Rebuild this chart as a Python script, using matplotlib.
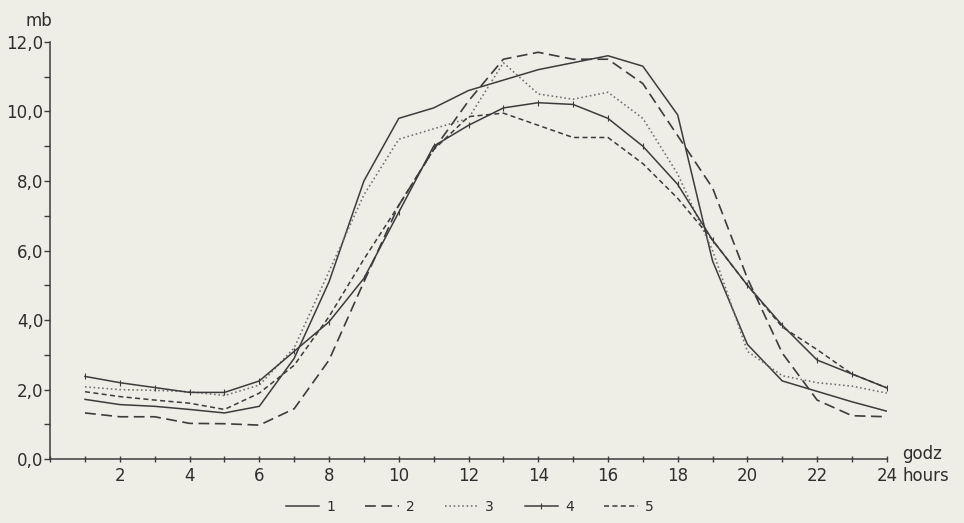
import matplotlib
matplotlib.use("Agg")
import matplotlib.pyplot as plt
from matplotlib.ticker import MultipleLocator, FuncFormatter

hours = list(range(1, 25))
series_names = ["1", "2", "3", "4", "5"]
s1 = [1.72, 1.57, 1.52, 1.43, 1.33, 1.52, 2.9, 5.1, 8.0, 9.8, 10.1, 10.6,
      10.9, 11.2, 11.4, 11.6, 11.3, 9.9, 5.7, 3.3, 2.25, 1.95, 1.65, 1.38]
s2 = [1.33, 1.22, 1.22, 1.03, 1.02, 0.98, 1.45, 2.85, 5.1, 7.3, 8.9, 10.3,
      11.5, 11.7, 11.5, 11.5, 10.8, 9.3, 7.8, 5.2, 3.05, 1.7, 1.25, 1.22]
s3 = [2.08, 2.0, 1.98, 1.94, 1.83, 2.13, 3.2, 5.4, 7.6, 9.2, 9.5, 9.8,
      11.4, 10.5, 10.35, 10.55, 9.8, 8.2, 6.0, 3.1, 2.4, 2.2, 2.1, 1.9]
s4 = [2.38, 2.2, 2.06, 1.92, 1.92, 2.25, 3.1, 3.95, 5.2, 7.1, 9.0, 9.6,
      10.1, 10.25, 10.2, 9.8, 9.0, 7.9, 6.3, 5.0, 3.85, 2.85, 2.45, 2.05]
s5 = [1.94, 1.8, 1.7, 1.61, 1.43, 1.9, 2.7, 4.1, 5.75, 7.3, 8.9, 9.85,
      9.95, 9.6, 9.25, 9.25, 8.5, 7.5, 6.3, 5.0, 3.8, 3.15, 2.45, 2.05]

bg = "#eeede6"
ink = "#3c3c3c"

fig = plt.figure(figsize=(9.64, 5.23), dpi=100, facecolor=bg)
ax = fig.add_axes([0.052, 0.122, 0.868, 0.798], facecolor=bg)

styles = [
    dict(color=ink, lw=1.1, linestyle="-"),
    dict(color=ink, lw=1.2, linestyle=(0, (6.5, 3.3))),
    dict(color="#6e6e6e", lw=1.15, linestyle=(0, (1.0, 1.7))),
    dict(color=ink, lw=1.1, linestyle="-", marker="|", markersize=5, markeredgewidth=0.8),
    dict(color=ink, lw=1.1, linestyle=(0, (3.3, 2.2))),
]
data = [s1, s2, s3, s4, s5]
handles = []
for name, ys, st in zip(series_names, data, styles):
    ln, = ax.plot(hours, ys, label=name, **st)
    handles.append(ln)

ax.set_xlim(0, 24)
ax.set_ylim(0, 12)
for s in ["top", "right"]:
    ax.spines[s].set_visible(False)
for s in ["left", "bottom"]:
    ax.spines[s].set_color(ink)
    ax.spines[s].set_linewidth(1.1)

ax.yaxis.set_major_locator(MultipleLocator(2))
ax.yaxis.set_minor_locator(MultipleLocator(1))
ax.yaxis.set_major_formatter(FuncFormatter(lambda v, p: f"{v:.1f}".replace(".", ",")))
ax.xaxis.set_major_locator(MultipleLocator(2))
ax.xaxis.set_minor_locator(MultipleLocator(1))
ax.xaxis.set_major_formatter(FuncFormatter(lambda v, p: "" if v == 0 else f"{int(v)}"))

ax.tick_params(axis="y", which="both", direction="out", length=4, width=1, colors=ink,
               labelsize=12, pad=1)
ax.tick_params(axis="x", which="both", direction="inout", length=5, width=1, colors=ink,
               labelsize=12, pad=3)
for lab in ax.get_xticklabels() + ax.get_yticklabels():
    lab.set_color("#2e2e2e")

fig.text(0.040, 0.960, "mb", fontsize=12, color="#2e2e2e", ha="center", va="center")
fig.text(0.936, 0.131, "godz", fontsize=12, color="#2e2e2e", ha="left", va="center")
fig.text(0.936, 0.089, "hours", fontsize=12, color="#2e2e2e", ha="left", va="center")

leg = fig.legend(handles=handles, labels=series_names, loc="center", ncol=5,
                 bbox_to_anchor=(0.487, 0.030), frameon=False, fontsize=10,
                 handlelength=2.4, handletextpad=0.5, columnspacing=2.2,
                 labelcolor="#2e2e2e")

fig.savefig("out.png", dpi=100, facecolor=bg)
